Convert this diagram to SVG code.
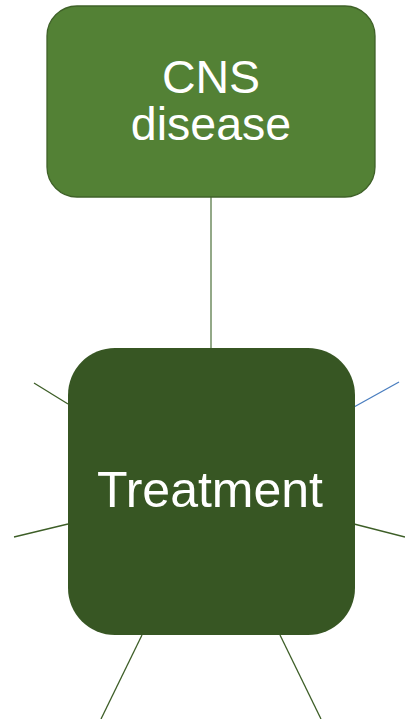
<svg xmlns="http://www.w3.org/2000/svg" width="405" height="719" viewBox="0 0 405 719">
<style>
.lbl{font-family:"Liberation Sans",Arial,sans-serif;fill:#ffffff;text-anchor:middle}
.ln{stroke:#3d5e27;stroke-width:1.3;fill:none}
</style>
<rect width="405" height="719" fill="#ffffff"/>
<g id="connectors">
<line class="ln" x1="211" y1="197" x2="211" y2="349" style="stroke:#6f8c60;stroke-width:1.5"/>
<line class="ln" x1="34" y1="383" x2="68" y2="404"/>
<line class="ln" x1="14" y1="537" x2="68" y2="524"/>
<line class="ln" x1="354" y1="407" x2="399" y2="382" style="stroke:#4a7ebf"/>
<line class="ln" x1="354" y1="524" x2="405" y2="537"/>
<line class="ln" x1="142" y1="635" x2="101" y2="719"/>
<line class="ln" x1="280" y1="635" x2="321" y2="719"/>
</g>
<g id="cns">
<rect x="47" y="6" width="328" height="191" rx="30" fill="#538135" stroke="#3f6128" stroke-width="1.3"/>
<text class="lbl" x="211" y="93" font-size="46.5">CNS</text>
<text class="lbl" x="211" y="140" font-size="46.5">disease</text>
</g>
<g id="treatment">
<rect x="68" y="348" width="287" height="287" rx="47" fill="#375623"/>
<text class="lbl" x="210" y="507" font-size="50">Treatment</text>
</g>
</svg>
